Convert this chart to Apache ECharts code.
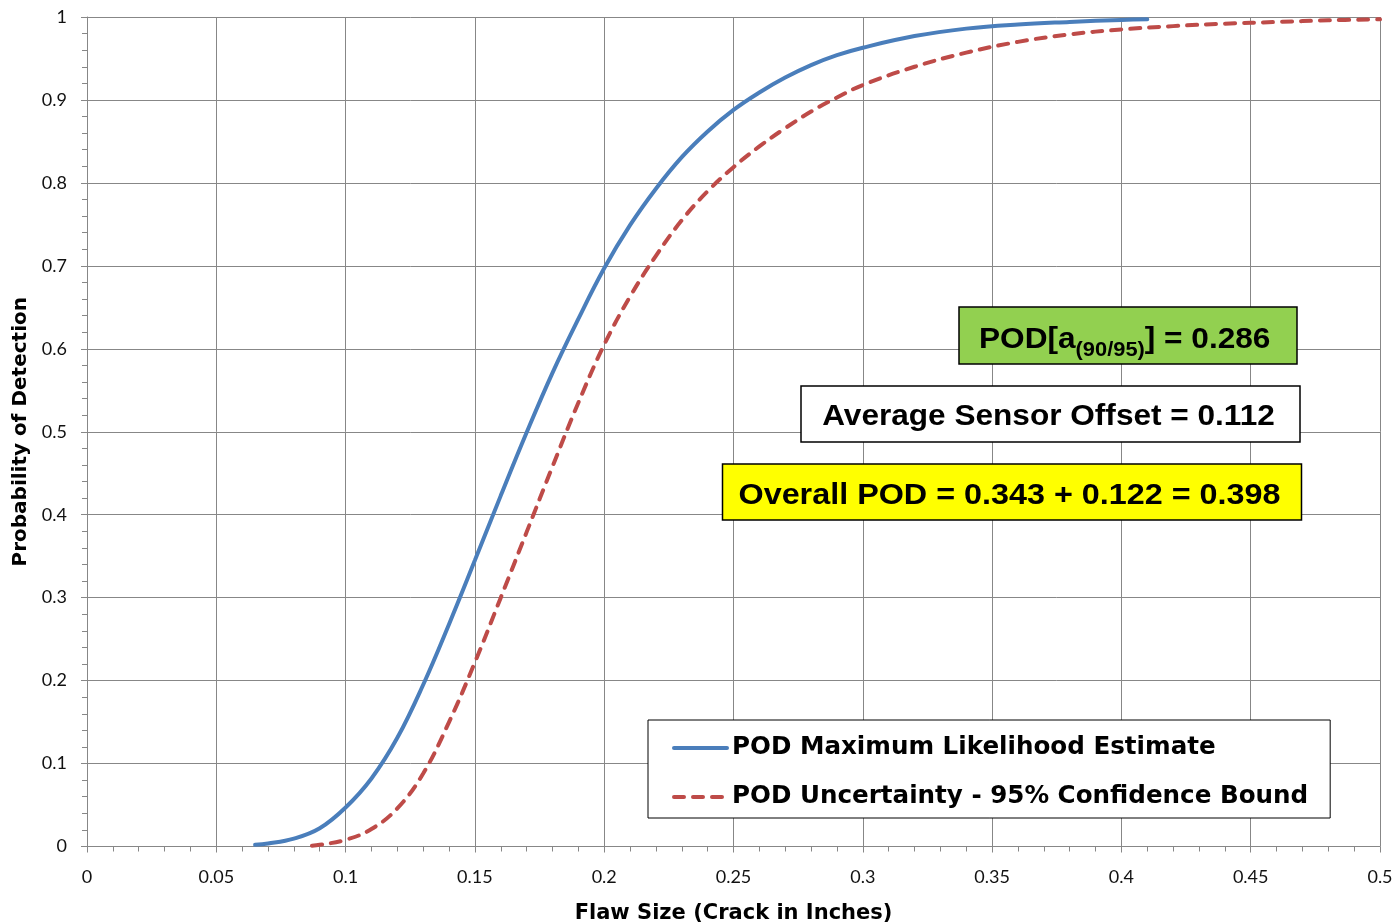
<!DOCTYPE html>
<html>
<head>
<meta charset="utf-8">
<script src="https://cdn.jsdelivr.net/npm/echarts@6/dist/echarts.min.js"></script>
<style>
  html, body { margin: 0; padding: 0; background: #fff; }
  #chart { width: 1398px; height: 922px; }
</style>
</head>
<body>
<div id="chart"></div>
<script>
// Axis tick labels
const xTickLabels = ['0', '0.05', '0.1', '0.15', '0.2', '0.25', '0.3', '0.35', '0.4', '0.45', '0.5'];
const yTickLabels = ['0', '0.1', '0.2', '0.3', '0.4', '0.5', '0.6', '0.7', '0.8', '0.9', '1'];

// POD maximum likelihood estimate (flaw size in inches -> probability)
const mleFlaw = [0.065, 0.07, 0.08, 0.09, 0.10, 0.11, 0.12, 0.13, 0.14, 0.15, 0.16, 0.17, 0.18, 0.19, 0.20,
  0.21, 0.22, 0.23, 0.24, 0.25, 0.26, 0.27, 0.28, 0.29, 0.30, 0.32, 0.34, 0.36, 0.38, 0.40, 0.41];
const mlePod = [0.002, 0.0035, 0.0095, 0.022, 0.047, 0.082, 0.131, 0.195, 0.268, 0.345, 0.423, 0.499, 0.571, 0.636, 0.697,
  0.749, 0.793, 0.831, 0.862, 0.888, 0.909, 0.927, 0.942, 0.954, 0.963, 0.977, 0.986, 0.991, 0.994, 0.9965, 0.9972];

// POD 95% lower confidence bound
const boundFlaw = [0.087, 0.09, 0.10, 0.11, 0.12, 0.13, 0.14, 0.15, 0.16, 0.17, 0.18, 0.19, 0.20, 0.21, 0.22,
  0.23, 0.24, 0.25, 0.26, 0.27, 0.28, 0.29, 0.30, 0.32, 0.34, 0.36, 0.38, 0.40, 0.42, 0.44, 0.46, 0.48, 0.50];
const boundPod = [0.001, 0.002, 0.008, 0.021, 0.046, 0.088, 0.150, 0.222, 0.300, 0.379, 0.458, 0.535, 0.605, 0.663, 0.712,
  0.755, 0.790, 0.819, 0.844, 0.866, 0.886, 0.903, 0.918, 0.940, 0.957, 0.970, 0.979, 0.985, 0.989, 0.992, 0.994, 0.996, 0.9972];

const seriesNames = ['POD Maximum Likelihood Estimate', 'POD Uncertainty - 95% Confidence Bound'];

// Annotation texts
const a9095Label = ['POD[a', '(90/95)', '] = 0.286'];
const offsetLabel = 'Average Sensor Offset = 0.112';
const overallLabel = 'Overall POD = 0.343 + 0.122 = 0.398';

const pair = (xs, ys) => xs.map((x, i) => [x, ys[i]]);

const GRID = '#878787';
const boxFont = (size) => 'bold ' + size + 'px "Liberation Sans", Arial, sans-serif';

const chart = echarts.init(document.getElementById('chart'), null, { renderer: 'canvas' });

chart.setOption({
  backgroundColor: '#ffffff',
  animation: false,
  grid: { left: 87, right: 18, top: 17, bottom: 75.5, containLabel: false, outerBoundsMode: 'none' },
  xAxis: {
    type: 'value',
    min: 0, max: 0.5, interval: 0.05,
    name: 'Flaw Size (Crack in Inches)',
    nameLocation: 'middle',
    nameGap: 57,
    nameTextStyle: { fontFamily: 'DejaVu Sans', fontWeight: 'bold', fontSize: 21, color: '#000' },
    axisLine: { show: true, onZero: false, lineStyle: { color: GRID, width: 1 } },
    axisTick: { show: true, inside: false, length: 6, lineStyle: { color: GRID } },
    minorTick: { show: true, splitNumber: 5, length: 5, lineStyle: { color: GRID } },
    splitLine: { show: true, lineStyle: { color: GRID, width: 1 } },
    axisLabel: {
      margin: 22, fontFamily: 'Lato', fontSize: 18, color: '#111',
      formatter: (v) => xTickLabels[Math.round(v / 0.05)]
    }
  },
  yAxis: {
    type: 'value',
    min: 0, max: 1, interval: 0.1,
    name: 'Probability of Detection',
    nameLocation: 'middle',
    nameGap: 47,
    nameTextStyle: { fontFamily: 'DejaVu Sans', fontWeight: 'bold', fontSize: 20, color: '#000' },
    axisLine: { show: true, onZero: false, lineStyle: { color: GRID, width: 1 } },
    axisTick: { show: true, inside: false, length: 6, lineStyle: { color: GRID } },
    minorTick: { show: true, splitNumber: 5, length: 5, lineStyle: { color: GRID } },
    splitLine: { show: true, lineStyle: { color: GRID, width: 1 } },
    axisLabel: {
      margin: 20, fontFamily: 'Lato', fontSize: 18, color: '#111',
      formatter: (v) => yTickLabels[Math.round(v / 0.1)]
    }
  },
  legend: {
    orient: 'vertical',
    left: 648, top: 720,
    padding: [13, 22, 6, 24],
    itemGap: 19,
    itemWidth: 53,
    itemHeight: 14,
    backgroundColor: '#ffffff',
    borderColor: '#000',
    borderWidth: 1,
    selectedMode: false,
    itemStyle: { color: 'rgba(0,0,0,0)', borderWidth: 0, opacity: 0 },
    lineStyle: { width: 4, cap: 'round' },
    textStyle: { fontFamily: 'DejaVu Sans', fontWeight: 'bold', fontSize: 24.6, color: '#000', lineHeight: 30 },
    data: seriesNames
  },
  series: [
    {
      name: seriesNames[0],
      type: 'line',
      data: pair(mleFlaw, mlePod),
      smooth: 0.4,
      symbol: 'none',
      showSymbol: false,
      lineStyle: { color: '#4A7EBB', width: 4, cap: 'round' },
      itemStyle: { color: '#4A7EBB' },
      z: 3
    },
    {
      name: seriesNames[1],
      type: 'line',
      data: pair(boundFlaw, boundPod),
      smooth: 0.4,
      symbol: 'none',
      showSymbol: false,
      lineStyle: { color: '#BE4B48', width: 4, type: [10, 9], cap: 'round' },
      itemStyle: { color: '#BE4B48' },
      z: 2
    }
  ],
  graphic: [
    // a90/95 box
    { type: 'rect', shape: { x: 959, y: 307, width: 338, height: 57 },
      style: { fill: '#92D050', stroke: '#000', lineWidth: 1.5 }, z: 10 },
    { type: 'text', x: 979, y: 339.8, scaleX: 1.09, z: 11,
      style: { text: a9095Label[0], font: boxFont(29), fill: '#000', align: 'left', verticalAlign: 'middle' } },
    { type: 'text', x: 1075.6, y: 350.2, scaleX: 1.04, z: 11,
      style: { text: a9095Label[1], font: boxFont(21), fill: '#000', align: 'left', verticalAlign: 'middle' } },
    { type: 'text', x: 1144.8, y: 339.8, scaleX: 1.09, z: 11,
      style: { text: a9095Label[2], font: boxFont(29), fill: '#000', align: 'left', verticalAlign: 'middle' } },
    // sensor offset box
    { type: 'rect', shape: { x: 801, y: 386, width: 499, height: 56 },
      style: { fill: '#ffffff', stroke: '#000', lineWidth: 1.5 }, z: 10 },
    { type: 'text', x: 1048.5, y: 417.3, scaleX: 1.089, z: 11,
      style: { text: offsetLabel, font: boxFont(29), fill: '#000', align: 'center', verticalAlign: 'middle' } },
    // overall POD box
    { type: 'rect', shape: { x: 722.5, y: 464, width: 579, height: 56 },
      style: { fill: '#FFFF00', stroke: '#000', lineWidth: 1.5 }, z: 10 },
    { type: 'text', x: 1009.5, y: 496, scaleX: 1.115, z: 11,
      style: { text: overallLabel, font: boxFont(29), fill: '#000', align: 'center', verticalAlign: 'middle' } }
  ]
});
</script>
</body>
</html>
